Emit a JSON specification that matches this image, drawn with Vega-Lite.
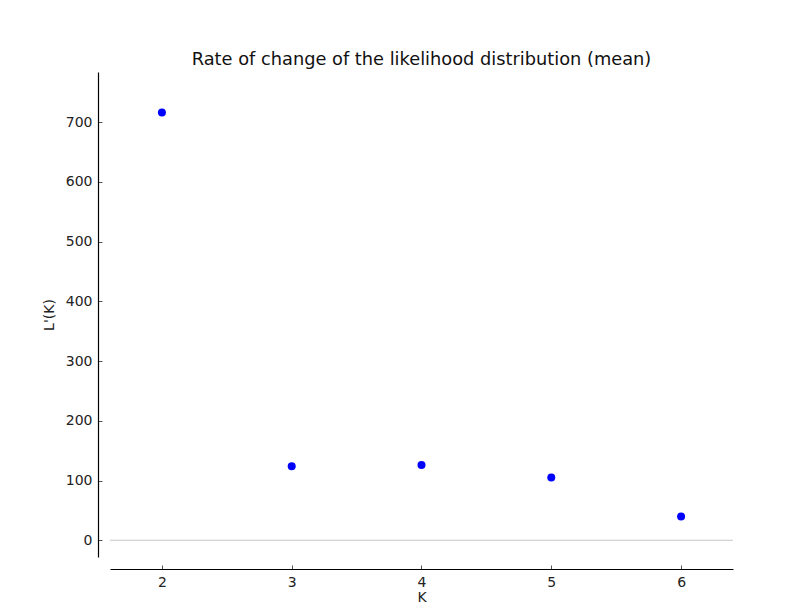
{
  "$schema": "https://vega.github.io/schema/vega-lite/v6.json",
  "autosize": "none",
  "width": 623,
  "height": 485,
  "padding": {"left": 110, "top": 72, "right": 69, "bottom": 52},
  "background": "white",
  "config": {
    "font": "DejaVu Sans",
    "view": {"stroke": null},
    "axis": {"grid": false, "labelFont": "DejaVu Sans", "titleFont": "DejaVu Sans", "labelFontSize": 14, "titleFontSize": 14, "titleFontWeight": "normal", "labelColor": "#222", "titleColor": "#222", "domainColor": "#000", "domainWidth": 1.2, "tickColor": "#555"}
  },
  "title": {"text": "Rate of change of the likelihood distribution (mean)", "font": "DejaVu Sans", "fontSize": 17.8, "fontWeight": "normal", "color": "#111", "offset": 3, "anchor": "middle"},
  "data": {"values": [
    {"K": 2, "L": 716},
    {"K": 3, "L": 124},
    {"K": 4, "L": 126},
    {"K": 5, "L": 105},
    {"K": 6, "L": 40}
  ]},
  "layer": [
    {
      "data": {"values": [{"z": 0}]},
      "mark": {"type": "rule", "color": "#c8c8c8", "strokeWidth": 1},
      "encoding": {"y": {"field": "z", "type": "quantitative"}}
    },
    {
      "mark": {"type": "point", "filled": true, "color": "#0000ff", "opacity": 1, "size": 64},
      "encoding": {
        "x": {"field": "K", "type": "quantitative", "scale": {"domain": [1.6, 6.4], "nice": false, "zero": false},
              "axis": {"values": [2, 3, 4, 5, 6], "offset": 12, "tickSize": -4, "labelPadding": 10, "title": "K", "titlePadding": 1}},
        "y": {"field": "L", "type": "quantitative", "scale": {"domain": [-28, 784], "nice": false, "zero": false},
              "axis": {"values": [0, 100, 200, 300, 400, 500, 600, 700], "offset": 12, "tickSize": -4, "labelPadding": 10, "title": "L'(K)", "titlePadding": 9}}
      }
    }
  ]
}
